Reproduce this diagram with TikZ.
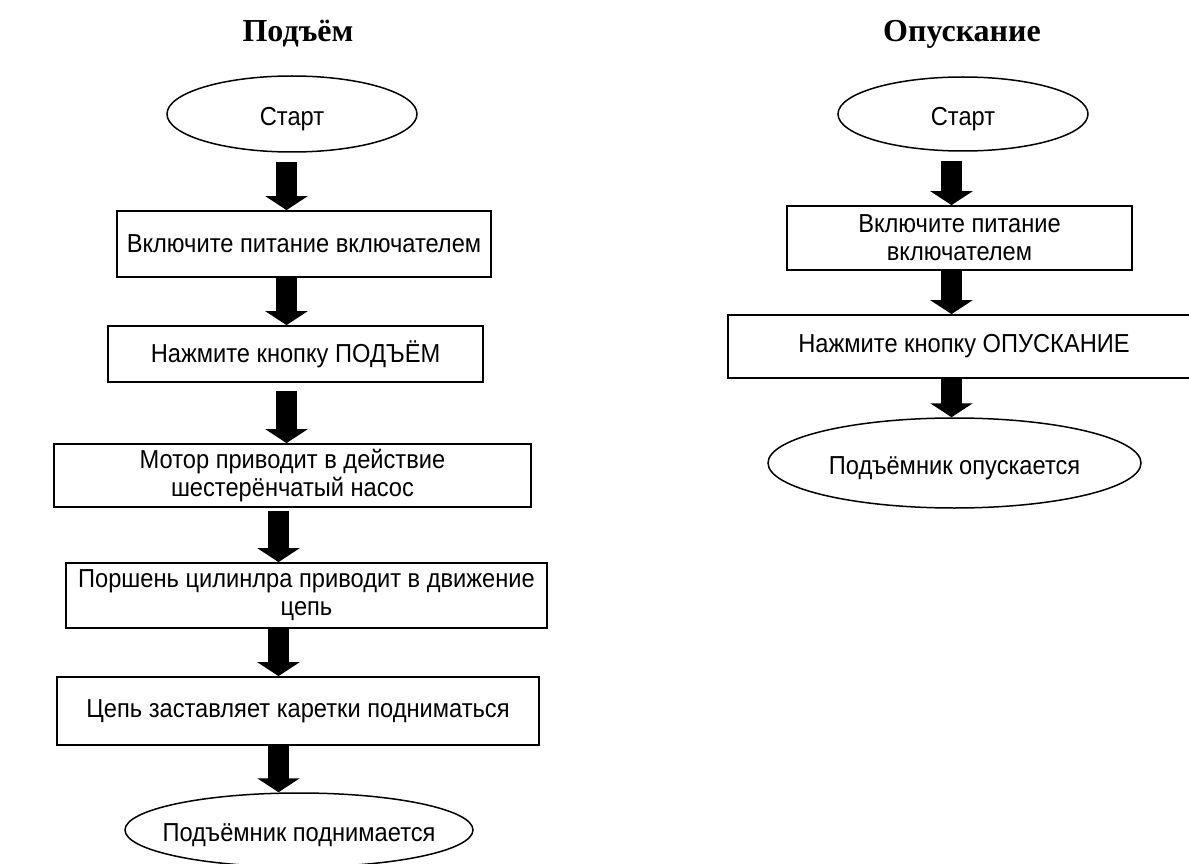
\documentclass[tikz,border=0pt]{standalone}
\usepackage{fontspec}
\setmainfont{Liberation Serif}
\newfontfamily\arialf[FakeStretch=0.91]{Liberation Sans}
\usetikzlibrary{arrows.meta,shapes.geometric}

\tikzset{
  box/.style={draw, line width=1.8pt, rectangle, inner sep=0pt, align=center,
    font=\arialf\fontsize{26}{28}\selectfont},
  oval/.style={draw, line width=1.5pt, ellipse, inner ysep=0pt, inner xsep=-30pt, align=center,
    text height=23pt, text depth=0pt,
    font=\arialf\fontsize{26}{28}\selectfont},
  ttl/.style={font=\bfseries\fontsize{32}{36}\selectfont, anchor=base, inner sep=0pt},
  barrow/.style={line width=21pt, -{Triangle[width=42pt,length=14pt]}}
}

\begin{document}
\begin{tikzpicture}[x=1pt,y=-1pt]
\useasboundingbox (0,0) rectangle (1189,864);
\clip (0,0) rectangle (1189,864);

% ---------- left column ----------
\node[ttl] (t1) at (298,42) {Подъём};
\node[oval, minimum width=250pt, minimum height=76pt] (s1) at (292,114) {Старт};
\node[box, minimum width=374pt, minimum height=66pt] (b1) at (304,244) {Включите питание включателем};
\node[box, minimum width=375pt, minimum height=56pt] (b2) at (295.5,354) {Нажмите кнопку ПОДЪЁМ};
\node[box, minimum width=477pt, minimum height=63pt] (b3) at (292.5,475.5) {Мотор приводит в действие\\шестерёнчатый насос};
\node[box, minimum width=481pt, minimum height=65pt] (b4) at (306.5,595.5) {Поршень цилинлра приводит в движение\\цепь};
\node[box, minimum width=482pt, minimum height=68pt] (b5) at (298,711) {Цепь заставляет каретки подниматься};
\node[oval, minimum width=348pt, minimum height=74pt] (e1) at (299,830) {Подъёмник поднимается};

\draw[barrow, shorten <=9pt] (s1.south -| 286.5,0) -- (b1.north -| 286.5,0);
\draw[barrow] (b1.south -| 286.5,0) -- (b2.north -| 286.5,0);
\draw[barrow, shorten <=8pt] (b2.south -| 286.5,0) -- (b3.north -| 286.5,0);
\draw[barrow, shorten <=3pt] (b3.south -| 278.5,0) -- (b4.north -| 278.5,0);
\draw[barrow] (b4.south -| 278.5,0) -- (b5.north -| 278.5,0);
\draw[barrow] (b5.south -| 278.5,0) -- (e1.north -| 278.5,0);

% ---------- right column ----------
\node[ttl] (t2) at (962,42) {Опускание};
\node[oval, minimum width=250pt, minimum height=74pt] (s2) at (963,114) {Старт};
\node[box, minimum width=345pt, minimum height=64pt] (r1) at (959.5,238) {Включите питание\\включателем};
\node[box, minimum width=472pt, minimum height=63pt] (r2) at (964,346.5) {Нажмите кнопку ОПУСКАНИЕ};
\node[oval, minimum width=373pt, minimum height=90pt] (e2) at (954.5,463) {Подъёмник опускается};

\draw[barrow, shorten <=9pt] (s2.south -| 951.5,0) -- (r1.north -| 951.5,0);
\draw[barrow] (r1.south -| 951.5,0) -- (r2.north -| 951.5,0);
\draw[barrow] (r2.south -| 951.5,0) -- (e2.north -| 951.5,0);
\end{tikzpicture}
\end{document}
